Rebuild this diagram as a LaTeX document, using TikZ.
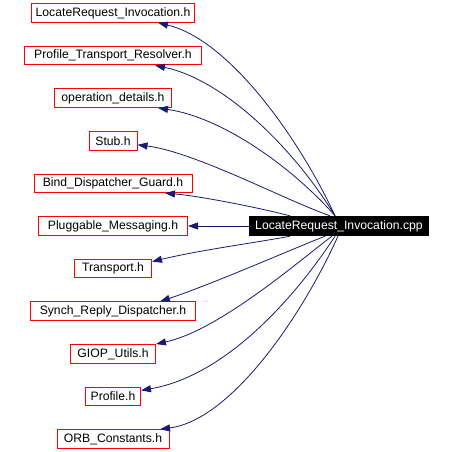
\documentclass[tikz,border=0pt]{standalone}
\usepackage{fontspec}
\setmainfont{Liberation Sans}
\usetikzlibrary{arrows.meta}
\definecolor{edgeblue}{RGB}{25,25,112}
\definecolor{boxred}{RGB}{255,0,0}

\begin{document}
\begin{tikzpicture}[
    x=1pt,
    y=-1pt,
    every node/.style={font=\fontsize{12.2}{14}\selectfont},
    hdr/.style={draw=boxred,line width=1pt,minimum height=18.5pt,inner xsep=4pt,inner ysep=0pt},
    dep/.style={edgeblue,line width=0.8pt,-{Triangle[length=10pt,width=7pt]}}
]
\useasboundingbox (0,0) rectangle (454,451);

% included headers
\foreach \name/\label/\w/\y in {invh/LocateRequest\_Invocation.h/162/13,
    ptr/Profile\_Transport\_Resolver.h/177/55.6,
    opdet/operation\_details.h/117/98.2,
    stub/Stub.h/48/140.8,
    bdg/Bind\_Dispatcher\_Guard.h/158/183.4,
    plmsg/Pluggable\_Messaging.h/149/226,
    transp/Transport.h/77/268.6,
    srd/Synch\_Reply\_Dispatcher.h/165/311.2,
    giop/GIOP\_Utils.h/85/353.8,
    prof/Profile.h/55/396.4,
    orbc/ORB\_Constants.h/112/439}{
    \node[hdr,minimum width=\w pt] (\name) at (113,\y) {\label};
}

% the source file
\node[fill=black,text=white,minimum height=20pt,minimum width=180pt] (cpp) at (339,226)
    {LocateRequest\_Invocation.cpp};

% upper edges
\draw[dep] ([xshift=-4pt]cpp.north) .. controls (300,140) and (230,40) .. ([xshift=45pt]invh.south);
\draw[dep] ([xshift=-4pt]cpp.north) .. controls (295,150) and (225,80) .. ([xshift=42pt]ptr.south);
\draw[dep] ([xshift=-4pt]cpp.north) .. controls (295,170) and (225,118) .. ([xshift=45pt]opdet.south);
\draw[dep] ([xshift=-9pt]cpp.north) .. controls (285,200) and (195,152) .. ([yshift=-4pt]stub.east);
\draw[dep] ([xshift=-49pt]cpp.north) .. controls (260,208) and (200,196) .. ([xshift=52pt]bdg.south);

% straight one
\draw[dep] (cpp.west) -- (plmsg.east);

% lower edges
\draw[dep] ([xshift=-49pt]cpp.south) .. controls (260,242) and (200,250) .. ([yshift=7pt]transp.east);
\draw[dep] ([xshift=-14pt]cpp.south) .. controls (290,250) and (210,285) .. ([xshift=47pt]srd.north);
\draw[dep] ([xshift=-7pt]cpp.south) .. controls (300,260) and (220,330) .. (giop.north east);
\draw[dep] ([xshift=-4pt]cpp.south) .. controls (300,290) and (230,375) .. ([yshift=6pt]prof.east);
\draw[dep] ([xshift=-1pt]cpp.south) .. controls (300,320) and (230,420) .. ([xshift=47pt]orbc.north);

\end{tikzpicture}
\end{document}
